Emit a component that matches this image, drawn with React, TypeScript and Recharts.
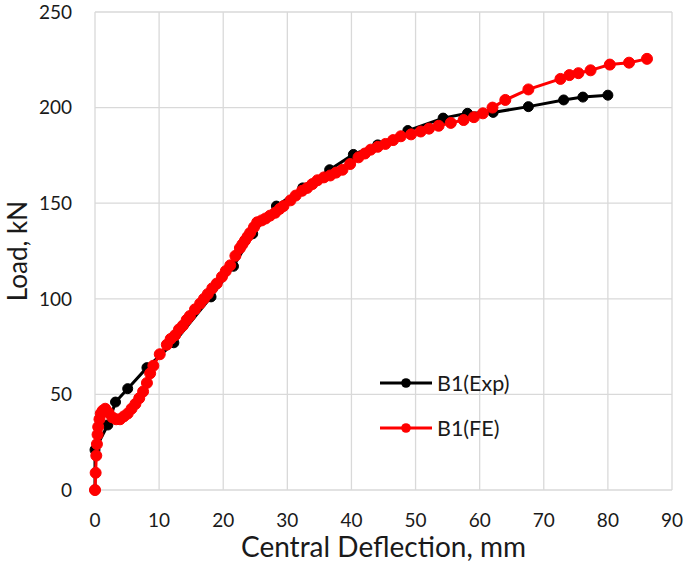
import React from 'react';
import { CartesianGrid, Label, Legend, Line, LineChart, XAxis, YAxis } from 'recharts';

// B1 experimental curve (mm, kN)
const expDeflection = [0, 0, 2, 3.2, 5.1, 8.1, 12.3, 18.1, 21.6, 24.6, 28.3, 32.4, 36.6, 40.3, 44.1, 48.8, 54.3, 58.1, 62.1, 67.6, 73.1, 76.1, 80];
const expLoad = [0, 21, 34, 46, 53, 64, 77, 101, 117, 134, 148.5, 158, 167.5, 175.5, 180.5, 188, 194.5, 197, 197.5, 200.5, 204, 205.5, 206.5];

// B1 finite element curve (mm, kN)
const feDeflection = [
  0, 0.1, 0.2, 0.3, 0.4, 0.5, 0.7, 0.9, 1.2, 1.6, 2.1, 2.7, 3.3, 3.9, 4.5, 5.1, 5.7, 6.3, 6.9, 7.5, 8.1, 8.6, 9.1,
  10.1, 11.2, 11.8, 12.5, 13.1, 13.7, 14.3, 14.8, 15.6, 16.4, 17.0, 17.6, 18.3, 19.0, 19.8, 20.4, 21.1, 21.9,
  22.6, 23.0, 23.4, 23.8, 24.2, 24.8, 25.3, 26.0, 26.6, 27.3, 28.1, 28.8, 29.4, 30.5, 31.3, 32.3, 33.1, 33.9,
  34.7, 35.7, 36.7, 37.6, 38.6, 39.8, 41.1, 42.1, 43.0, 44.1, 45.3, 46.5, 47.7, 49.3, 50.8, 52.1, 53.6, 55.5,
  57.5, 59.1, 60.5, 62.0, 64.0, 67.6, 72.6, 74.0, 75.4, 77.3, 80.3, 83.3, 86.1,
];
const feLoad = [
  0, 9, 18, 24, 29, 33, 37, 40, 41.5, 42.5, 40.5, 38, 37, 37, 38.5, 40, 42.5, 45, 48, 51.5, 56, 61, 65,
  71, 76, 79, 81, 84, 86, 89, 91, 94.5, 97.5, 100, 102.5, 105.5, 108, 111.5, 114.5, 117.5, 122.5,
  126.5, 128.5, 130.5, 132.5, 134.5, 137.5, 140, 141, 142, 143.5, 145, 147, 148.5, 151.5, 154, 156.5, 158, 160,
  162, 163.5, 164.5, 166, 167.5, 170.5, 174, 176, 178, 179.5, 181, 183, 185, 186, 187.5, 189, 190.5, 192,
  193.5, 195, 197, 200, 204, 209.5, 215, 217, 218, 219.5, 222.5, 223.5, 225.5,
];

const xTicks = [0, 10, 20, 30, 40, 50, 60, 70, 80, 90];
const yTicks = [0, 50, 100, 150, 200, 250];
const seriesNames = ['B1(Exp)', 'B1(FE)'];

const expData = expDeflection.map((x, i) => ({ x, load: expLoad[i] }));
const feData = feDeflection.map((x, i) => ({ x, load: feLoad[i] }));

const FONT = 'Lato, "Open Sans", sans-serif';
const TEXT = '#1a1a1a';

const LegendContent = ({ payload }: any) => {
  const items = [...(payload || [])].sort(
    (a: any, b: any) => seriesNames.indexOf(a.value) - seriesNames.indexOf(b.value)
  );
  return (
    <div>
      {items.map((entry: any, i: number) => (
        <div key={i} style={{ display: 'flex', alignItems: 'center', height: 45 }}>
          <svg width={52} height={12}>
            <line x1={0} y1={6} x2={52} y2={6} stroke={entry.color} strokeWidth={3} />
            <circle cx={26} cy={6} r={4.8} fill={entry.color} />
          </svg>
          <span style={{ marginLeft: 5, fontFamily: FONT, fontSize: 21.5, color: TEXT }}>{entry.value}</span>
        </div>
      ))}
    </div>
  );
};

export default function App() {
  return (
    <div style={{ position: 'absolute', left: 0, top: 0 }}>
      <LineChart width={685} height={563} margin={{ top: 12, right: 13, left: 0, bottom: 0 }}>
        <CartesianGrid stroke="#d9d9d9" strokeWidth={1.3} />
        <XAxis
          type="number"
          dataKey="x"
          domain={[0, 90]}
          ticks={xTicks}
          axisLine={false}
          tickLine={false}
          tickMargin={17.5}
          height={73}
          tick={{ fill: TEXT, fontSize: 19, fontFamily: FONT }}
        >
          <Label
            value="Central Deflection, mm"
            position="insideBottom"
            offset={6}
            style={{ fill: TEXT, fontSize: 28, fontFamily: FONT }}
          />
        </XAxis>
        <YAxis
          type="number"
          dataKey="load"
          domain={[0, 250]}
          ticks={yTicks}
          axisLine={false}
          tickLine={false}
          tickMargin={17}
          width={95}
          tick={{ fill: TEXT, fontSize: 19, fontFamily: FONT }}
        >
          <Label
            value="Load, kN"
            angle={-90}
            position="insideLeft"
            offset={18}
            style={{ fill: TEXT, fontSize: 26, fontFamily: FONT, textAnchor: 'middle' }}
          />
        </YAxis>
        <Legend
          layout="horizontal"
          verticalAlign="middle"
          align="center"
          content={<LegendContent />}
          wrapperStyle={{ position: 'absolute', left: 380, top: 360, width: 'auto' }}
        />
        <Line
          data={expData}
          dataKey="load"
          name="B1(Exp)"
          type="linear"
          stroke="#000000"
          strokeWidth={3}
          dot={{ r: 5, fill: '#000000', stroke: '#000000', strokeWidth: 1 }}
          isAnimationActive={false}
        />
        <Line
          data={feData}
          dataKey="load"
          name="B1(FE)"
          type="linear"
          stroke="#ff0000"
          strokeWidth={3}
          dot={{ r: 5.5, fill: '#ff0000', stroke: '#ff0000', strokeWidth: 1 }}
          isAnimationActive={false}
        />
      </LineChart>
    </div>
  );
}
